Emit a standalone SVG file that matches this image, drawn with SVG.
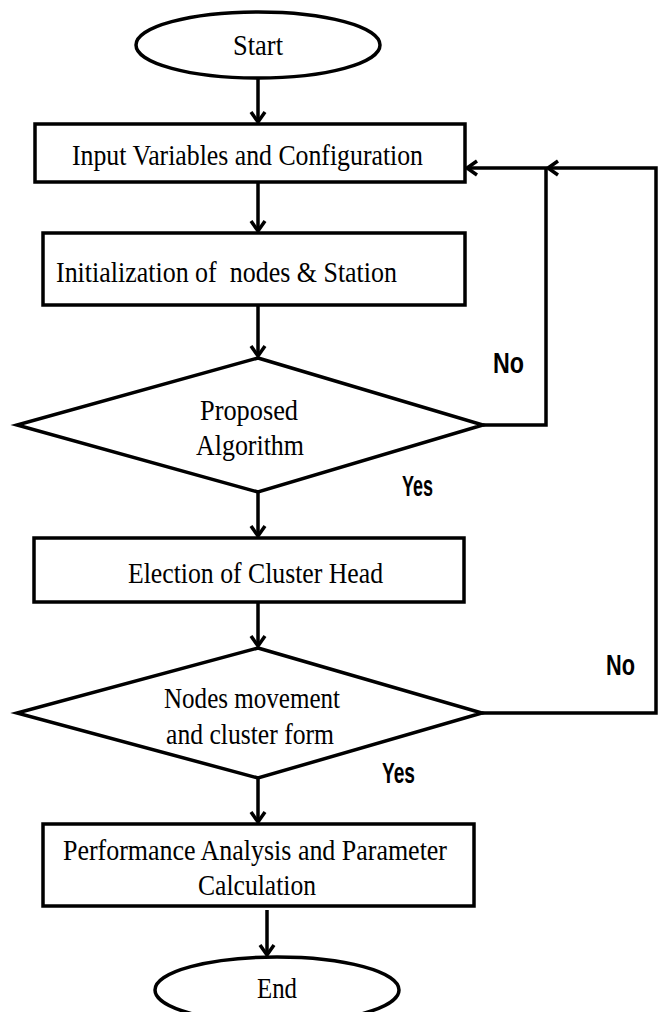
<svg xmlns="http://www.w3.org/2000/svg" width="664" height="1012" viewBox="0 0 664 1012">
<style>
.s{fill:#fff;stroke:#000;stroke-width:3.5}
.t{font-family:"Liberation Serif",serif;font-size:30px;fill:#000}
.l{font-family:"Liberation Sans",sans-serif;font-weight:bold;font-size:30px;fill:#000}
.c{fill:none;stroke:#000;stroke-width:3.5}
</style>
<defs>
<marker id="a" markerUnits="userSpaceOnUse" markerWidth="20" markerHeight="20" refX="14" refY="10" orient="auto">
<path d="M4,3 L14,10 L4,17" fill="none" stroke="#000" stroke-width="3.5"/>
</marker>
</defs>
<rect width="664" height="1012" fill="#fff"/>
<g id="connectors">
<line class="c" x1="258" y1="78" x2="258" y2="122" marker-end="url(#a)"/>
<line class="c" x1="258" y1="182" x2="258" y2="231" marker-end="url(#a)"/>
<line class="c" x1="258" y1="305" x2="258" y2="356" marker-end="url(#a)"/>
<line class="c" x1="258" y1="490" x2="258" y2="536" marker-end="url(#a)"/>
<line class="c" x1="258" y1="602" x2="258" y2="646" marker-end="url(#a)"/>
<line class="c" x1="258" y1="778" x2="258" y2="822" marker-end="url(#a)"/>
<line class="c" x1="267" y1="910" x2="267" y2="955" marker-end="url(#a)"/>
<polyline class="c" points="483,425 546,425 546,168 467,168" marker-end="url(#a)"/>
<polyline class="c" points="482,713 656,713 656,168 548,168" marker-end="url(#a)"/>
<text class="l" x="493" y="373" textLength="31" lengthAdjust="spacingAndGlyphs">No</text>
<text class="l" x="402" y="496" textLength="31" lengthAdjust="spacingAndGlyphs">Yes</text>
<text class="l" x="606" y="675" textLength="29" lengthAdjust="spacingAndGlyphs">No</text>
<text class="l" x="382" y="783" textLength="33" lengthAdjust="spacingAndGlyphs">Yes</text>
</g>
<g id="start">
<ellipse class="s" cx="258" cy="45" rx="122" ry="33"/>
<text class="t" x="233" y="55" textLength="50" lengthAdjust="spacingAndGlyphs">Start</text>
</g>
<g id="input">
<rect class="s" x="35" y="124" width="430" height="58"/>
<text class="t" x="72" y="165" textLength="351" lengthAdjust="spacingAndGlyphs">Input Variables and Configuration</text>
</g>
<g id="init">
<rect class="s" x="43" y="233" width="422" height="72"/>
<text class="t" x="56" y="282" textLength="341" lengthAdjust="spacingAndGlyphs" xml:space="preserve">Initialization of  nodes &amp; Station</text>
</g>
<g id="proposed">
<polygon class="s" points="258,358 483,425 258,492 17,425"/>
<text class="t" x="200" y="420" textLength="98" lengthAdjust="spacingAndGlyphs">Proposed</text>
<text class="t" x="196" y="455" textLength="108" lengthAdjust="spacingAndGlyphs">Algorithm</text>
</g>
<g id="election">
<rect class="s" x="34" y="538" width="430" height="64"/>
<text class="t" x="128" y="583" textLength="255" lengthAdjust="spacingAndGlyphs">Election of Cluster Head</text>
</g>
<g id="movement">
<polygon class="s" points="258,648 482,713 258,778 17,713"/>
<text class="t" x="164" y="708" textLength="176" lengthAdjust="spacingAndGlyphs">Nodes movement</text>
<text class="t" x="166" y="744" textLength="168" lengthAdjust="spacingAndGlyphs">and cluster form</text>
</g>
<g id="performance">
<rect class="s" x="43" y="824" width="431" height="82"/>
<text class="t" x="63" y="860" textLength="384" lengthAdjust="spacingAndGlyphs">Performance Analysis and Parameter</text>
<text class="t" x="198" y="895" textLength="118" lengthAdjust="spacingAndGlyphs">Calculation</text>
</g>
<g id="end">
<ellipse class="s" cx="277" cy="990" rx="122" ry="33"/>
<text class="t" x="257" y="998" textLength="40" lengthAdjust="spacingAndGlyphs">End</text>
</g>
</svg>
